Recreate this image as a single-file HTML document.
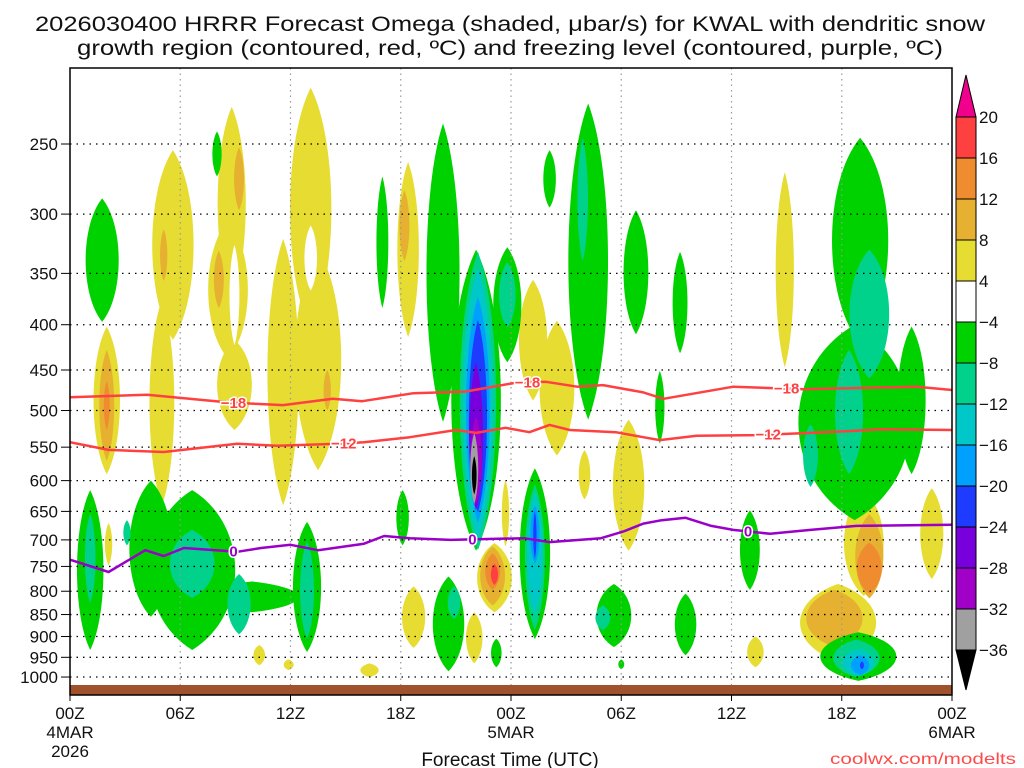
<!DOCTYPE html>
<html><head><meta charset="utf-8"><style>
html,body{margin:0;padding:0;background:#fff;}
svg{display:block;font-family:"Liberation Sans",sans-serif;}
</style></head><body>
<svg id="chart" width="1024" height="768" viewBox="0 0 1024 768" xmlns="http://www.w3.org/2000/svg">
<rect width="1024" height="768" fill="#fff"/>
<text x="35" y="31" font-size="21" textLength="950" lengthAdjust="spacingAndGlyphs" fill="#111">2026030400 HRRR Forecast Omega (shaded, μbar/s) for KWAL with dendritic snow</text>
<text x="77" y="55" font-size="21" textLength="866" lengthAdjust="spacingAndGlyphs" fill="#111">growth region (contoured, red, ºC) and freezing level (contoured, purple, ºC)</text>
<defs><clipPath id="plotclip"><rect x="70" y="68" width="882" height="627"/></clipPath></defs>
<g id="blobs" clip-path="url(#plotclip)"></g>
<g id="grid"></g>
<rect x="70" y="685" width="882" height="10" fill="#a0522d"/>
<g id="lines" clip-path="url(#plotclip)"></g>
<rect x="70" y="68" width="882" height="627" fill="none" stroke="#000" stroke-width="1.5"/>
<g id="axes"></g>
<g id="cbar"></g>
<text x="510" y="766" font-size="19" text-anchor="middle" fill="#111">Forecast Time (UTC)</text>
<text x="1016" y="764" font-size="16" text-anchor="end" fill="#ff4a4a" textLength="186" lengthAdjust="spacingAndGlyphs">coolwx.com/modelts</text>
</svg>
<script>
// ---- data ----
const blobHour = [13.1,13.5,11.6,8.8,8.6,8.95,5.6,5.0,2.0,18.4,10.3,11.9,16.3,2.1,18.7,23.1,22.0,23.7,25.2,26.5,28.0,30.4,38.9,37.3,41.8,43.2,46.9,
  8.95,13.1,
  2.0,9.2,8.1,5.1,14.0,18.2,23.0,41.6,43.5,
  2.0,23.0,43.5,
  23.1,
  1.75,1.1,4.4,6.65,9.9,12.9,8.0,17.0,18.1,20.3,22.1,23.8,25.3,20.6,23.2,28.2,30.8,26.1,32.1,33.2,43.0,42.7,45.8,37.0,33.5,29.6,30.0,42.9,
  1.1,6.65,9.2,3.1,12.9,23.8,22.2,25.3,20.9,27.9,43.5,42.4,40.3,29.0,42.8,
  22.2,25.3,42.9,
  22.2,25.3,43.0,
  22.2,25.3,43.1,
  22.1,22.1,22.0,22.0];
const blobPTop = [216,329,320,227,305,416,254,375,402,262,920,955,965,670,790,706,845,599,356,396,554,512,269,900,785,615,612,
  325,309,
  427,252,330,312,450,282,712,797,655,
  463,725,705,
  745,
  288,615,600,615,780,668,242,272,615,237,329,327,581,770,905,225,297,254,451,331,246,400,402,648,805,785,955,890,
  654,682,765,665,703,340,331,606,790,246,329,427,518,830,907,
  345,620,930,
  372,640,945,
  395,650,960,
  441,508,530,563];
const blobPBot = [406,584,640,375,437,526,416,640,590,413,970,982,1000,748,927,845,965,712,487,562,630,720,447,975,960,810,775,
  422,366,
  570,297,383,357,500,339,830,925,815,
  526,797,805,
  787,
  397,932,855,932,845,937,272,383,710,515,720,441,906,985,975,512,410,295,545,431,420,665,590,797,945,925,980,1010,
  825,814,895,710,905,403,719,885,860,339,460,590,610,885,1000,
  700,850,998,
  670,745,995,
  652,735,980,
  648,638,638,622];
const blobHalfWidth = [1.25,1.4,0.95,0.85,1.2,1.05,1.25,0.75,0.8,0.65,0.35,0.3,0.55,0.22,0.7,1.05,0.5,0.22,0.85,1.05,0.35,0.95,0.55,0.5,2.3,1.2,0.7,
  0.3,0.38,
  0.45,0.3,0.3,0.22,0.22,0.3,0.75,1.7,0.85,
  0.18,0.45,0.75,
  0.22,
  1.0,0.8,1.3,2.6,2.8,0.85,0.28,0.36,0.38,1.0,1.5,0.85,0.92,0.95,0.32,1.2,0.75,0.38,0.28,0.45,1.7,3.4,0.85,0.6,0.65,1.05,0.18,2.3,
  0.32,1.35,0.7,0.22,0.42,0.5,1.1,0.6,0.38,0.32,1.2,0.85,0.45,0.45,1.4,
  0.9,0.45,0.95,
  0.72,0.28,0.55,
  0.55,0.1,0.12,
  0.42,0.36,0.24,0.14];
const blobLevel = [1,1,1,1,1,1,1,1,1,1,1,1,1,1,1,1,1,1,1,1,1,1,1,1,1,1,1,
  0,0,
  2,2,2,2,2,2,2,2,2,
  3,3,3,
  4,
  -1,-1,-1,-1,-1,-1,-1,-1,-1,-1,-1,-1,-1,-1,-1,-1,-1,-1,-1,-1,-1,-1,-1,-1,-1,-1,-1,-1,
  -2,-2,-2,-2,-2,-2,-2,-2,-2,-2,-2,-2,-2,-2,-2,
  -3,-3,-3,
  -4,-4,-4,
  -5,-5,-5,
  -6,-7,-8,-9];

const m18Hours = [0,4.2,8.8,11.6,14.3,15.9,18.7,21.5,24.3,25.9,27.6,29,31.2,32.3,36.1,39.9,46.1,48];
const m18P = [483,480,490,493,485,488,478,476,465,464,470,468,477,485,470,473,470,474];
const m12Hours = [0,2.1,5.1,9.1,11.3,14.6,16.0,18.5,21.0,22.1,23.7,25.0,26.1,27.2,29.7,31.2,32.1,34.1,37.4,40.3,42.8,44.1,48];
const m12P = [543,554,557,545,548,545,543,536,526,530,523,529,519,526,529,536,540,534,533,530,527,525,526];
const zeroHours = [0,2.1,4.1,5.1,6.2,9.1,10.4,12.0,13.5,16.0,17.1,18.5,20.7,24.7,26.1,28.9,30.1,31.2,32.2,33.5,34.9,36.1,38.1,40.3,42.8,48];
const zeroP = [737,761,719,730,715,722,715,709,719,707,693,697,700,697,704,697,685,671,665,661,675,682,689,682,675,673];

const pressureTicks = [250,300,350,400,450,500,550,600,650,700,750,800,850,900,950,1000];
const timeTicks = [0,6,12,18,24,30,36,42,48];
const timeLabels = ["00Z","06Z","12Z","18Z","00Z","06Z","12Z","18Z","00Z"];
const dateLabels = ["4MAR","","","","5MAR","","","","6MAR"];
const cbarLabels = ["20","16","12","8","4","\u22124","\u22128","\u221212","\u221216","\u221220","\u221224","\u221228","\u221232","\u221236"];

// ---- scales ----
const X0=70, X1=952;
function xs(h){return X0+h*(X1-X0)/48;}
function ys(p){return 144+384.5*Math.log(p/250);}
const levelColor = {"0":"#ffffff","1":"#e6dc32","2":"#e6b030","3":"#f08c30","4":"#ff4040",
 "-1":"#00d200","-2":"#00d28c","-3":"#00c8c8","-4":"#00a0ff","-5":"#1e3cff","-6":"#7800dc","-7":"#a000c8","-8":"#a0a0a0","-9":"#000000"};
const NS="http://www.w3.org/2000/svg";
function mk(tag,attrs,parent){const e=document.createElementNS(NS,tag);for(const k in attrs)e.setAttribute(k,attrs[k]);parent.appendChild(e);return e;}

// ---- shading (lens shapes) ----
const gB=document.getElementById('blobs');
for(let i=0;i<blobHour.length;i++){
  const yt=ys(blobPTop[i]), yb=ys(blobPBot[i]);
  const cx=xs(blobHour[i]), rx=blobHalfWidth[i]*(X1-X0)/48*1.2;
  const h=yb-yt, a=yt+h*0.22, b=yb-h*0.22;
  const d=`M${cx},${yt} C${cx+rx},${a} ${cx+rx},${b} ${cx},${yb} C${cx-rx},${b} ${cx-rx},${a} ${cx},${yt} Z`;
  const e=mk('path',{d:d,fill:levelColor[String(blobLevel[i])]},gB);
  
  
}

// ---- grid ----
const gG=document.getElementById('grid');
pressureTicks.forEach(p=>{
  const l=mk('line',{x1:X0,x2:X1,y1:ys(p),y2:ys(p),stroke:"#000","stroke-width":1.3,"stroke-dasharray":"1.5 5"},gG);
  
  
});
timeTicks.slice(1,8).forEach(h=>{
  const l=mk('line',{x1:xs(h),x2:xs(h),y1:68,y2:695,stroke:"#999","stroke-width":1.2,"stroke-dasharray":"1.5 4"},gG);
  
  
});

// ---- contour lines ----
const gL=document.getElementById('lines');
function drawLine(hs,ps,color,name){
  const d=hs.map((h,i)=>(i?'L':'M')+xs(h).toFixed(1)+','+ys(ps[i]).toFixed(1)).join(' ');
  const p=mk('path',{d:d,fill:"none",stroke:color,"stroke-width":2.5,"stroke-linejoin":"round"},gL);
  
  
}
function interp(hs,ps,h){for(let i=1;i<hs.length;i++){if(h<=hs[i]){const t=(h-hs[i-1])/(hs[i]-hs[i-1]);return ps[i-1]+t*(ps[i]-ps[i-1]);}}return ps[ps.length-1];}
drawLine(m18Hours,m18P,"#ff4040","contour-minus18");
drawLine(m12Hours,m12P,"#ff4040","contour-minus12");
drawLine(zeroHours,zeroP,"#9a00c8","freezing-level");
function lineLabel(txt,h,hs,ps,color){
  const t=mk('text',{x:xs(h),y:ys(interp(hs,ps,h))+5,"font-size":15,"font-weight":"bold","text-anchor":"middle",fill:color,stroke:"#fff","stroke-width":3,"paint-order":"stroke"},gL);
  t.textContent=txt;
  
  
}
[8.9,24.9,39.0].forEach(h=>lineLabel("\u221218",h,m18Hours,m18P,"#ff4040"));
[14.9,38.0].forEach(h=>lineLabel("\u221212",h,m12Hours,m12P,"#ff4040"));
[8.9,21.9,36.9].forEach(h=>lineLabel("0",h,zeroHours,zeroP,"#9a00c8"));

// ---- axes ----
const gA=document.getElementById('axes');
pressureTicks.forEach(p=>{
  const t=mk('text',{x:58,y:ys(p)+6,"font-size":17,"text-anchor":"end",fill:"#111"},gA);
  t.textContent=String(p);
  
  
  mk('line',{x1:61,x2:70,y1:ys(p),y2:ys(p),stroke:"#000","stroke-width":1},gA);
});
timeTicks.forEach((h,i)=>{
  const x=xs(h);
  mk('line',{x1:x,x2:x,y1:695,y2:701,stroke:"#000","stroke-width":1},gA);
  const t=mk('text',{x:x,y:719,"font-size":17,"text-anchor":"middle",fill:"#111"},gA);
  t.textContent=timeLabels[i];
  
  
  if(dateLabels[i]){
    const d=mk('text',{x:x,y:738,"font-size":17,"text-anchor":"middle",fill:"#111"},gA);
    d.textContent=dateLabels[i];
    
    
  }
});
const yr=mk('text',{x:xs(0),y:757,"font-size":17,"text-anchor":"middle",fill:"#111"},gA);
yr.textContent="2026";



// ---- colorbar ----
const gC=document.getElementById('cbar');
const cbColors=["#ff4040","#f08c30","#e6b030","#e6dc32","#ffffff","#00d200","#00d28c","#00c8c8","#00a0ff","#1e3cff","#7800dc","#a000c8","#a0a0a0"];
const CX=956, CW=20, CT=117, CH=41;
const tri=mk('polygon',{points:`${CX},${CT} ${CX+CW},${CT} ${CX+CW/2},75`,fill:"#f0008c",stroke:"#000","stroke-width":1},gC);


cbColors.forEach((c,i)=>{
  const r=mk('rect',{x:CX,y:CT+i*CH,width:CW,height:CH,fill:c,stroke:"#000","stroke-width":1},gC);
  
  
});
const CB=CT+cbColors.length*CH;
const tri2=mk('polygon',{points:`${CX},${CB} ${CX+CW},${CB} ${CX+CW/2},690`,fill:"#000",stroke:"#000","stroke-width":1},gC);


cbarLabels.forEach((s,i)=>{
  const t=mk('text',{x:979,y:CT+i*CH+6,"font-size":17,fill:"#111"},gC);
  t.textContent=s;
  
  
});
</script>
</body></html>
